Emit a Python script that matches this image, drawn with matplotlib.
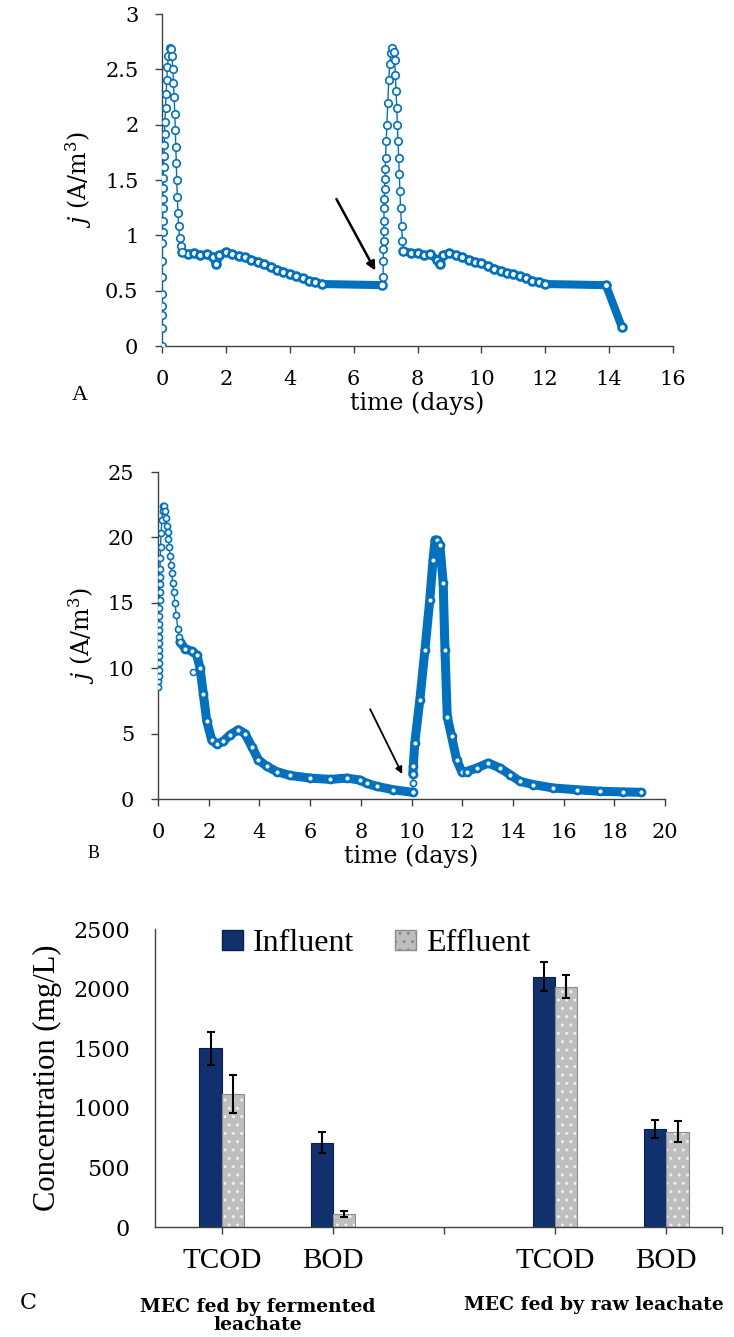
import numpy as np
import matplotlib
matplotlib.use("Agg")
import matplotlib.pyplot as plt
from matplotlib.patches import Patch

plt.rcParams["font.family"] = "DejaVu Serif"
plt.rcParams["mathtext.fontset"] = "dejavuserif"
plt.rcParams["hatch.linewidth"] = 1.0

BLUE = "#0070C0"
NAVY = "#10306E"
GRAY = "#BEBEBE"
AXC = "#404040"

# ---- panel A: current density, fermented leachate ----
a_peak1_t = [0.0, 0.0, 0.0, 0.0, 0.0, 0.01, 0.01, 0.01, 0.02, 0.02, 0.02, 0.03, 0.03, 0.04,
             0.05, 0.06, 0.07, 0.08, 0.09, 0.11, 0.13, 0.15, 0.17, 0.20, 0.24, 0.28, 0.31,
             0.34, 0.36, 0.38, 0.40, 0.42, 0.43, 0.45, 0.46, 0.48, 0.50, 0.52, 0.55, 0.58, 0.62]
a_peak1_j = [0.0, 0.16, 0.28, 0.36, 0.47, 0.62, 0.77, 0.93, 1.03, 1.13, 1.25, 1.33, 1.43, 1.52,
             1.62, 1.72, 1.82, 1.92, 2.02, 2.15, 2.28, 2.40, 2.52, 2.62, 2.69, 2.68, 2.62,
             2.50, 2.38, 2.25, 2.10, 1.95, 1.80, 1.65, 1.50, 1.35, 1.20, 1.08, 0.98, 0.90, 0.85]
a_band1_t = [0.62, 0.8, 1.0, 1.2, 1.4, 1.6, 1.7, 1.8, 2.0, 2.2, 2.4, 2.6, 2.8, 3.0, 3.2, 3.4,
             3.6, 3.8, 4.0, 4.2, 4.4, 4.6, 4.8, 5.0, 6.9]
a_band1_j = [0.85, 0.83, 0.84, 0.82, 0.83, 0.80, 0.74, 0.82, 0.85, 0.83, 0.81, 0.80, 0.78, 0.76,
             0.74, 0.71, 0.69, 0.67, 0.65, 0.63, 0.61, 0.59, 0.58, 0.56, 0.55]
a_peak2_t = [6.90, 6.92, 6.93, 6.93, 6.94, 6.94, 6.95, 6.95, 6.96, 6.97, 6.98, 6.99, 7.00, 7.02,
             7.04, 7.07, 7.10, 7.13, 7.17, 7.21, 7.25, 7.28, 7.31, 7.33, 7.35, 7.37, 7.39, 7.41,
             7.43, 7.45, 7.47, 7.50, 7.53, 7.56]
a_peak2_j = [0.55, 0.62, 0.77, 0.88, 0.95, 1.04, 1.13, 1.25, 1.33, 1.42, 1.51, 1.60, 1.70, 1.85,
             2.00, 2.20, 2.40, 2.55, 2.65, 2.69, 2.66, 2.58, 2.45, 2.30, 2.15, 2.00, 1.85, 1.70,
             1.55, 1.40, 1.25, 1.08, 0.95, 0.86]
a_band2_t = [7.56, 7.8, 8.0, 8.2, 8.4, 8.6, 8.7, 8.8, 9.0, 9.2, 9.4, 9.6, 9.8, 10.0, 10.2, 10.4,
             10.6, 10.8, 11.0, 11.2, 11.4, 11.6, 11.8, 12.0, 13.9, 14.4]
a_band2_j = [0.86, 0.84, 0.84, 0.82, 0.83, 0.78, 0.74, 0.82, 0.84, 0.82, 0.80, 0.78, 0.76, 0.75,
             0.72, 0.70, 0.68, 0.66, 0.65, 0.63, 0.61, 0.59, 0.58, 0.56, 0.55, 0.17]

# ---- panel B: current density, raw leachate ----
b_peak_t = [0.01, 0.01, 0.02, 0.02, 0.02, 0.03, 0.03, 0.03, 0.04, 0.04, 0.04, 0.05, 0.05, 0.06,
            0.06, 0.07, 0.07, 0.08, 0.09, 0.10, 0.12, 0.15, 0.18, 0.21, 0.25, 0.29, 0.32, 0.35,
            0.38, 0.41, 0.44, 0.47, 0.51, 0.54, 0.58, 0.62, 0.67, 0.72, 0.78, 0.83, 0.87]
b_peak_j = [8.6, 9.0, 9.4, 9.9, 10.4, 10.9, 11.4, 11.9, 12.4, 12.9, 13.4, 14.0, 14.6, 15.2,
            15.8, 16.4, 17.0, 17.6, 18.4, 19.3, 20.3, 21.3, 22.0, 22.4, 22.4, 22.0, 21.5, 20.9,
            20.4, 19.9, 19.3, 18.6, 17.9, 17.3, 16.5, 15.8, 15.0, 14.1, 13.0, 12.4, 12.0]
b_band1_t = [0.87, 1.07, 1.33, 1.53, 1.66, 1.79, 1.92, 2.12, 2.31, 2.57, 2.84, 3.17, 3.43, 3.70,
             3.96, 4.29, 4.68, 5.2, 6.0, 6.79, 7.44, 7.97, 8.23, 8.62, 9.28, 10.04]
b_band1_j = [12.0, 11.5, 11.3, 11.0, 10.0, 8.0, 6.0, 4.5, 4.2, 4.4, 4.9, 5.3, 5.0, 4.0,
             3.0, 2.5, 2.1, 1.8, 1.6, 1.5, 1.6, 1.45, 1.2, 0.97, 0.71, 0.51]
b_outlier_t = [1.39]
b_outlier_j = [9.7]
b_jump_t = [10.04, 10.05, 10.05]
b_jump_j = [0.51, 1.2, 1.9]
b_band2_t = [10.05, 10.07, 10.13, 10.33, 10.53, 10.72, 10.85, 10.93, 11.02, 11.12, 11.25, 11.32,
             11.41, 11.58, 11.78, 11.98, 12.17, 12.57, 13.03, 13.49, 13.89, 14.28, 14.81, 15.6,
             16.52, 17.44, 18.36, 19.06]
b_band2_j = [1.9, 2.5, 4.3, 7.6, 11.4, 15.2, 18.3, 19.8, 19.8, 19.4, 16.5, 11.4,
             6.3, 4.8, 3.0, 2.1, 2.1, 2.37, 2.75, 2.37, 1.86, 1.35, 1.1, 0.84,
             0.71, 0.59, 0.54, 0.51]

# ---- panel C: COD / BOD ----
c_labels = ["TCOD", "BOD", "", "TCOD", "BOD"]
c_pos = [0, 1, 3, 4]
influent = [1500, 707, 2100, 820]
influent_err = [140, 88, 120, 75]
effluent = [1113, 109, 2016, 800]
effluent_err = [160, 28, 95, 90]


def style_axes(ax):
    for side in ["top", "right"]:
        ax.spines[side].set_visible(False)
    for side in ["left", "bottom"]:
        ax.spines[side].set_color(AXC)
        ax.spines[side].set_linewidth(1.0)
    ax.tick_params(colors=AXC, labelcolor="black", direction="out", length=5, width=1.0,
                   pad=12, labelsize=15)


def draw_thin(ax, t, j, ms):
    ax.plot(t, j, color=BLUE, lw=1.0, marker="o", ms=ms, mfc="white", mec=BLUE, mew=1.2,
            zorder=3)


def draw_band(ax, t, j, lw, ms):
    ax.plot(t, j, color=BLUE, lw=lw, solid_capstyle="round", solid_joinstyle="round", zorder=2)
    ax.plot(t, j, ls="none", marker="o", ms=ms, mfc="white", mec=BLUE, mew=2.0, zorder=3)


fig = plt.figure(figsize=(7.34, 13.37), dpi=100)

# panel A
axA = fig.add_axes([162 / 734, 1 - 346 / 1337, 511 / 734, 332 / 1337])
draw_band(axA, a_band1_t, a_band1_j, 5.8, 5.6)
draw_band(axA, a_band2_t, a_band2_j, 5.8, 5.6)
draw_thin(axA, a_peak1_t, a_peak1_j, 5.4)
draw_thin(axA, a_peak2_t, a_peak2_j, 5.4)
axA.set_xlim(0, 16)
axA.set_ylim(0, 3)
axA.set_xticks(range(0, 17, 2))
axA.set_yticks([0, 0.5, 1, 1.5, 2, 2.5, 3])
axA.set_yticklabels(["0", "0.5", "1", "1.5", "2", "2.5", "3"])
style_axes(axA)
axA.set_ylabel(r"$j$ (A/m$^{3}$)", fontsize=17, labelpad=8)
axA.set_xlabel("time (days)", fontsize=17, labelpad=2)
axA.annotate("", xy=(6.72, 0.66), xytext=(5.42, 1.35),
             arrowprops=dict(arrowstyle="-|>", color="black", lw=1.8, mutation_scale=13))
fig.text(80 / 734, 1 - 395 / 1337, "A", fontsize=16, family="Liberation Serif",
         ha="center", va="center")

# panel B
axB = fig.add_axes([158 / 734, 1 - 799 / 1337, 507 / 734, 327 / 1337])
draw_band(axB, b_band1_t, b_band1_j, 6.5, 5.0)
draw_band(axB, b_band2_t, b_band2_j, 6.5, 5.0)
draw_thin(axB, b_peak_t, b_peak_j, 4.4)
draw_thin(axB, b_jump_t, b_jump_j, 4.4)
axB.plot(b_outlier_t, b_outlier_j, ls="none", marker="o", ms=4.4, mfc="white", mec=BLUE,
         mew=1.1, zorder=3)
axB.set_xlim(0, 20)
axB.set_ylim(0, 25)
axB.set_xticks(range(0, 21, 2))
axB.set_yticks(range(0, 26, 5))
style_axes(axB)
axB.set_ylabel(r"$j$ (A/m$^{3}$)", fontsize=17, labelpad=8)
axB.set_xlabel("time (days)", fontsize=17, labelpad=2)
axB.annotate("", xy=(9.68, 1.72), xytext=(8.32, 7.06),
             arrowprops=dict(arrowstyle="-|>", color="black", lw=1.3, mutation_scale=10))
fig.text(94 / 734, 1 - 853 / 1337, "B", fontsize=13, family="Liberation Serif",
         ha="center", va="center")

# panel C
axC = fig.add_axes([155 / 734, 1 - 1227 / 1337, 567 / 734, 298 / 1337])
xi = np.array(c_pos)
axC.bar(xi - 0.1, influent, width=0.2, color=NAVY, edgecolor="#0A1F4D", lw=0.8, zorder=2)
axC.bar(xi + 0.1, effluent, width=0.2, color=GRAY, edgecolor="#EDEDED", lw=0, hatch="..",
        zorder=2)
axC.bar(xi + 0.1, effluent, width=0.2, fill=False, edgecolor="#8C8C8C", lw=0.8, zorder=2)
axC.errorbar(xi - 0.1, influent, yerr=influent_err, fmt="none", ecolor="black", elinewidth=1.5,
             capsize=3, capthick=1.5, zorder=3)
axC.errorbar(xi + 0.1, effluent, yerr=effluent_err, fmt="none", ecolor="black", elinewidth=1.5,
             capsize=3, capthick=1.5, zorder=3)
axC.set_xlim(-0.6, 4.5)
axC.set_ylim(0, 2500)
axC.set_xticks([0, 1, 2, 3, 4, 4.5])
axC.set_xticklabels(c_labels + [""], family="Liberation Serif")
axC.set_yticks(range(0, 2501, 500))
style_axes(axC)
axC.tick_params(axis="y", length=0, pad=18, labelsize=16)
axC.tick_params(axis="x", length=5, pad=10, labelsize=21)
axC.set_ylabel("Concentration (mg/L)", fontsize=22, family="Liberation Serif", labelpad=8)
handles = [Patch(facecolor=NAVY, edgecolor="#0A1F4D"),
           Patch(facecolor=GRAY, edgecolor="#8C8C8C", hatch="..")]
axC.legend(handles, ["Influent", "Effluent"], ncol=2, loc="center",
           bbox_to_anchor=(0.39, 0.95), frameon=False,
           prop={"family": "Liberation Serif", "size": 23},
           handlelength=0.65, handleheight=0.55, handletextpad=0.3, columnspacing=1.3)
fig.text(28 / 734, 1 - 1303 / 1337, "C", fontsize=16, ha="center", va="center")
fig.text(258 / 734, 1 - 1316 / 1337, "MEC fed by fermented\nleachate", fontsize=13.5,
         fontweight="bold", ha="center", va="center", linespacing=1.0)
fig.text(594 / 734, 1 - 1305 / 1337, "MEC fed by raw leachate", fontsize=13.5,
         fontweight="bold", ha="center", va="center")

fig.savefig("out.png", dpi=100)
